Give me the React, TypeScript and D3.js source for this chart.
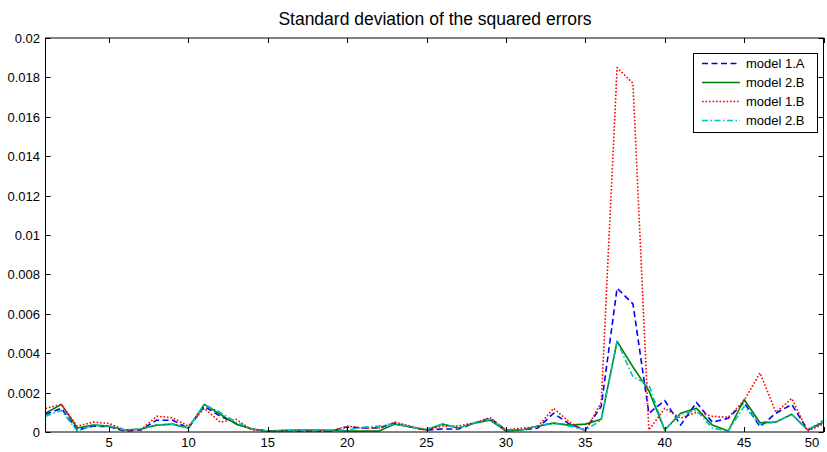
import * as d3 from 'd3';
import React, { useRef, useEffect } from 'react';

const xs = d3.range(1, 51);

const model1A = [0.0009, 0.0012, 0.0001, 0.0003, 0.00027, 0.00005, 0.0001, 0.0006, 0.0006, 0.0002,
    0.0013, 0.0008, 0.00045, 0.00015, 0.00005, 0.00005, 0.00005, 0.00005, 0.00005, 0.00025,
    0.0002, 0.0002, 0.00045, 0.00025, 0.0001, 0.00015, 0.00015, 0.00045, 0.0007, 0.0001,
    0.0001, 0.0002, 0.00095, 0.0004, 0.0001, 0.0013, 0.0073, 0.0065, 0.00095, 0.0016,
    0.00035, 0.0015, 0.0005, 0.0007, 0.0015, 0.00027, 0.00095, 0.0014, 0.0001, 0.0005];

const model2B = [0.00095, 0.0014, 0.0002, 0.00035, 0.0003, 0.0001, 0.00015, 0.00035, 0.0004, 0.0002,
    0.0014, 0.0009, 0.0004, 0.00015, 0.00005, 0.00008, 0.0001, 0.0001, 0.00008, 0.00005,
    0.00005, 0.00005, 0.0004, 0.00025, 0.0001, 0.0004, 0.0002, 0.00045, 0.0006, 0.00005,
    0.0001, 0.0003, 0.00045, 0.00035, 0.0004, 0.00065, 0.0046, 0.0033, 0.0021, 0.0001,
    0.00095, 0.0012, 0.00035, 0.00005, 0.00165, 0.00047, 0.0005, 0.0009, 0.0001, 0.0005];

const model1B = [0.0012, 0.0014, 0.0003, 0.0005, 0.00044, 0.0001, 0.0001, 0.0008, 0.00072, 0.0003,
    0.0012, 0.0005, 0.00065, 0.0001, 0.00005, 0.00005, 0.00005, 0.00005, 0.00005, 0.0003,
    0.0002, 0.0002, 0.0005, 0.0003, 0.00008, 0.0003, 0.0003, 0.00047, 0.00073, 0.0001,
    0.0002, 0.00027, 0.0012, 0.0005, 0.00005, 0.0015, 0.0185, 0.0177, 0.0001, 0.0012,
    0.0007, 0.001, 0.0008, 0.00075, 0.0016, 0.003, 0.001, 0.0017, 0.00005, 0.0004];

const model2Bb = [0.0008, 0.0011, 0.00005, 0.00035, 0.0003, 0.0001, 0.00015, 0.00035, 0.0004, 0.0002,
    0.0014, 0.001, 0.0005, 0.00015, 0.00005, 0.00005, 0.00008, 0.00008, 0.0001, 0.0001,
    0.00024, 0.0003, 0.0004, 0.00025, 0.00015, 0.0004, 0.0002, 0.00045, 0.00065, 0.0001,
    0.0001, 0.0003, 0.00045, 0.0003, 0.0001, 0.0006, 0.0046, 0.0028, 0.0024, 0.0001,
    0.0009, 0.0011, 0.0002, 0.00005, 0.0013, 0.0004, 0.0005, 0.0009, 0.0001, 0.0006];

const xTicks = [5, 10, 15, 20, 25, 30, 35, 40, 45, 50];
const yTicks = [0, 0.002, 0.004, 0.006, 0.008, 0.01, 0.012, 0.014, 0.016, 0.018, 0.02];
const yTickLabels = ['0', '0.002', '0.004', '0.006', '0.008', '0.01', '0.012', '0.014', '0.016', '0.018', '0.02'];

const series = [
    { name: 'model 1.A', values: model1A, color: '#0000ff', dash: '6,3.5' },
    { name: 'model 2.B', values: model2B, color: '#008000', dash: null },
    { name: 'model 1.B', values: model1B, color: '#ff0000', dash: '1.6,1.9' },
    { name: 'model 2.B', values: model2Bb, color: '#00bfbf', dash: '6,2.5,1.5,2.5' },
];

function Chart() {
    const ref = useRef(null);

    useEffect(() => {
        const svg = d3.select(ref.current);
        svg.selectAll('*').remove();

        const left = 45.5, right = 823.5, top = 38, bottom = 432;
        const x = d3.scaleLinear().domain([1, 50]).range([left, right]);
        const y = d3.scaleLinear().domain([0, 0.02]).range([bottom, top]);
        const font = '"Liberation Sans", Arial, sans-serif';

        svg.append('rect')
            .attr('width', 827).attr('height', 452).attr('fill', '#fff');

        svg.append('text')
            .attr('x', 435).attr('y', 25)
            .attr('text-anchor', 'middle')
            .attr('font-family', font)
            .attr('font-size', '17.5px')
            .text('Standard deviation of the squared errors');

        // lines
        const line = d3.line().x((d) => x(d[0])).y((d) => y(d[1]));
        series.forEach((s) => {
            svg.append('path')
                .datum(xs.map((v, i) => [v, s.values[i]]))
                .attr('d', line)
                .attr('fill', 'none')
                .attr('stroke', s.color)
                .attr('stroke-width', 1.6)
                .attr('stroke-dasharray', s.dash)
                .attr('stroke-linejoin', 'round');
        });

        // box and ticks
        const axisG = svg.append('g').attr('stroke', '#000').attr('stroke-width', 1);
        axisG.append('rect')
            .attr('x', left).attr('y', top)
            .attr('width', right - left).attr('height', bottom - top)
            .attr('fill', 'none');

        xTicks.forEach((t) => {
            const px = Math.round(x(t)) + 0.5;
            axisG.append('line').attr('x1', px).attr('x2', px).attr('y1', bottom).attr('y2', bottom - 5);
            axisG.append('line').attr('x1', px).attr('x2', px).attr('y1', top).attr('y2', top + 5);
        });
        yTicks.forEach((t) => {
            const py = Math.round(y(t)) + 0.5;
            axisG.append('line').attr('x1', left).attr('x2', left + 5).attr('y1', py).attr('y2', py);
            axisG.append('line').attr('x1', right).attr('x2', right - 5).attr('y1', py).attr('y2', py);
        });

        svg.selectAll('.xlab')
            .data(xTicks)
            .enter()
            .append('text')
            .attr('x', (d) => Math.min(x(d), 812))
            .attr('y', 447)
            .attr('text-anchor', 'middle')
            .attr('font-family', font)
            .attr('font-size', '13px')
            .text((d) => d);

        svg.selectAll('.ylab')
            .data(yTicks)
            .enter()
            .append('text')
            .attr('x', 40)
            .attr('y', (d) => y(d) + 5)
            .attr('text-anchor', 'end')
            .attr('font-family', font)
            .attr('font-size', '13px')
            .text((d, i) => yTickLabels[i]);

        // legend
        const lg = svg.append('g');
        lg.append('rect')
            .attr('x', 693.5).attr('y', 53.5)
            .attr('width', 124).attr('height', 79)
            .attr('fill', '#fff').attr('stroke', '#000');
        series.forEach((s, i) => {
            const ly = 63.5 + i * 19;
            lg.append('line')
                .attr('x1', 702).attr('x2', 740)
                .attr('y1', ly).attr('y2', ly)
                .attr('stroke', s.color)
                .attr('stroke-width', 1.6)
                .attr('stroke-dasharray', s.dash);
            lg.append('text')
                .attr('x', 746).attr('y', ly + 4.5)
                .attr('font-family', font)
                .attr('font-size', '13px')
                .text(s.name);
        });
    }, []);

    return <svg ref={ref} width={827} height={452} style={{ display: 'block' }}></svg>;
}

export default function App() {
    return (
        <div style={{ position: 'absolute', left: 0, top: 0 }}>
            <Chart />
        </div>
    );
}
